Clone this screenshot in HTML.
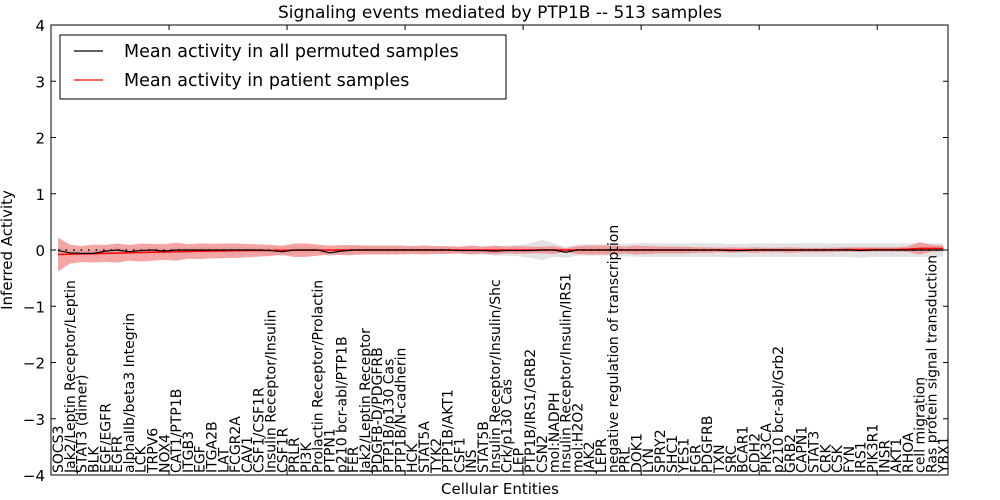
<!DOCTYPE html>
<html><head><meta charset="utf-8"><style>
body{margin:0;background:#fff;}
svg{display:block;font-family:"DejaVu Sans","Liberation Sans",sans-serif;}
</style></head><body>
<svg id="chart" width="1000" height="500" viewBox="0 0 1000 500">
<rect width="1000" height="500" fill="#fff"/>
<text x="500" y="18" text-anchor="middle" font-size="17">Signaling events mediated by PTP1B -- 513 samples</text>
<g id="bands"></g>
<g id="lines"></g>
<rect x="51" y="25" width="897" height="450" fill="none" stroke="#000" stroke-width="1"/>
<g id="yaxis"></g>
<g id="xaxis"></g>
<text x="12" y="250" transform="rotate(-90 12 250)" text-anchor="middle" font-size="15">Inferred Activity</text>
<text x="500" y="494" text-anchor="middle" font-size="15">Cellular Entities</text>
<g>
<rect x="60" y="35" width="446" height="64" fill="#fff" stroke="#000" stroke-width="1"/>
<line x1="74" y1="51" x2="103" y2="51" stroke="#000" stroke-width="1.2"/>
<text x="124" y="57" font-size="17.5">Mean activity in all permuted samples</text>
<line x1="74" y1="80" x2="103" y2="80" stroke="#f00" stroke-width="1.2"/>
<text x="124" y="86" font-size="17.5">Mean activity in patient samples</text>
</g>
</svg>
<script>
const categories=["SOCS3","Jak2/Leptin Receptor/Leptin","STAT3 (dimer)","BLK","EGF/EGFR","EGFR","alphaIIb/beta3 Integrin","LCK","TRPV6","NOX4","CAT1/PTP1B","ITGB3","EGF","ITGA2B","LAT","FCGR2A","CAV1","CSF1/CSF1R","Insulin Receptor/Insulin","CSF1R","PRLR","PI3K","Prolactin Receptor/Prolactin","PTPN1","p210 bcr-abl/PTP1B","FER","Jak2/Leptin Receptor","PDGFB-D/PDGFRB","PTP1B/p130 Cas","PTP1B/N-cadherin","HCK","STAT5A","TYK2","PTP1B/AKT1","CSF1","INS","STAT5B","Insulin Receptor/Insulin/Shc","Crk/p130 Cas","LEP","PTP1B/IRS1/GRB2","CSN2","mol:NADPH","Insulin Receptor/Insulin/IRS1","mol:H2O2","JAK2","LEPR","negative regulation of transcription","PRL","DOK1","LYN","SPRY2","SHC1","YES1","FGR","PDGFRB","TXN","SRC","BCAR1","CDH2","PIK3CA","p210 bcr-abl/Grb2","GRB2","CAPN1","STAT3","CRK","CSK","FYN","IRS1","PIK3R1","INSR","AKT1","RHOA","cell migration","Ras protein signal transduction","YBX1"];
const permutedMean=[-0.01,-0.05,-0.06,-0.06,-0.02,0,-0.03,-0.01,0,-0.02,0,0,0,0,0,0,0,0,-0.01,-0.03,0,0,0,-0.05,-0.02,0,0,0,0,0,0,0,0,0,-0.01,-0.01,-0.01,-0.02,-0.01,-0.01,-0.01,0,0,-0.04,0,0,0,0,0,0,0,0,0,0,0,0,0,-0.01,-0.01,0,0,0,0,0,0,0,0,0,-0.01,0,0,0,0,0,0,0];
const permutedSpread=[0.05,0.05,0.05,0.05,0.05,0.05,0.05,0.05,0.05,0.05,0.05,0.05,0.05,0.05,0.05,0.05,0.05,0.05,0.06,0.08,0.07,0.06,0.06,0.06,0.06,0.06,0.06,0.06,0.06,0.06,0.06,0.06,0.06,0.06,0.06,0.07,0.07,0.08,0.09,0.1,0.13,0.18,0.12,0.1,0.1,0.1,0.1,0.1,0.11,0.12,0.12,0.12,0.12,0.12,0.12,0.12,0.12,0.12,0.12,0.12,0.12,0.12,0.12,0.12,0.12,0.12,0.12,0.12,0.13,0.12,0.12,0.12,0.12,0.12,0.12,0.12];
const patientMean=[-0.08,-0.075,-0.07,-0.065,-0.06,-0.055,-0.05,-0.045,-0.04,-0.035,-0.03,-0.026,-0.022,-0.018,-0.015,-0.012,-0.01,-0.008,-0.006,-0.005,-0.004,-0.003,-0.002,-0.002,-0.001,0,0,0,0,0,0,0,0,0,0,0,0,0,0,0,0,0,0,0,0,0,0,0,0,0,0,0,0,0,0,0,0,0,0,0,0,0,0,0,0,0,0.005,0.01,0.01,0.01,0.01,0.01,0.015,0.03,0.03,0.03];
const patientSpread=[0.3,0.17,0.14,0.16,0.15,0.17,0.14,0.16,0.15,0.14,0.16,0.13,0.14,0.13,0.13,0.13,0.12,0.11,0.1,0.08,0.12,0.12,0.1,0.08,0.09,0.09,0.08,0.08,0.08,0.08,0.07,0.08,0.07,0.07,0.06,0.08,0.06,0.08,0.06,0.07,0.06,0.06,0.07,0.03,0.07,0.08,0.08,0.08,0.06,0.08,0.07,0.06,0.06,0.06,0.05,0.05,0.04,0.05,0.04,0.05,0.04,0.04,0.05,0.04,0.04,0.04,0.04,0.04,0.04,0.04,0.04,0.04,0.05,0.11,0.06,0.05];
const yTicks=[-4,-3,-2,-1,0,1,2,3,4];
const xTickIdx=[0,10,20,30,40,50,60,70];

const NS="http://www.w3.org/2000/svg";
const L=51,R=948,T=25,B=475,N=categories.length,STEP=(R-L)/N;
function xs(i){return L+(i+0.6)*STEP;}
function ys(v){return T+(4-v)/8*(B-T);}
function mk(tag,attrs,parent){const e=document.createElementNS(NS,tag);for(const k in attrs)e.setAttribute(k,attrs[k]);parent.appendChild(e);return e;}
function band(mean,spread){let up=[],dn=[];for(let i=0;i<N;i++){up.push(xs(i)+","+ys(mean[i]+spread[i]));dn.unshift(xs(i)+","+ys(mean[i]-spread[i]));}return up.concat(dn).join(" ");}
function line(vals){return vals.map((v,i)=>xs(i)+","+ys(v)).join(" ");}
const bands=document.getElementById("bands"),lines=document.getElementById("lines");
let g=mk("polygon",{points:band(permutedMean,permutedSpread),fill:"#d9d9d9","fill-opacity":"0.75"},bands);


let r=mk("polygon",{points:band(patientMean,patientSpread),fill:"#f08080","fill-opacity":"0.7"},bands);


let z=mk("line",{x1:xs(0),x2:xs(N-1),y1:ys(0),y2:ys(0),stroke:"#000","stroke-width":"1.5","stroke-dasharray":"1.5 6"},lines);


let pl=mk("polyline",{points:line(patientMean),fill:"none",stroke:"#f00","stroke-width":"1.5"},lines);


let bl=mk("polyline",{points:line(permutedMean),fill:"none",stroke:"#000","stroke-width":"1.2"},lines);


const ya=document.getElementById("yaxis");
yTicks.forEach(v=>{
  const y=ys(v);
  let t1=mk("line",{x1:L,x2:L+5,y1:y,y2:y,stroke:"#000"},ya);
  
  
  let t2=mk("line",{x1:R-5,x2:R,y1:y,y2:y,stroke:"#000"},ya);
  
  
  let tx=mk("text",{x:L-6,y:y+6,"text-anchor":"end","font-size":"15"},ya);
  tx.textContent=v==0?"0":(v<0?"\u2212"+(-v):String(v));
  
  
});
const xa=document.getElementById("xaxis");
xTickIdx.forEach(i=>{
  const x=L+i*STEP;
  let a=mk("line",{x1:x,x2:x,y1:T,y2:T+5,stroke:"#000"},xa);
  
  
  let b=mk("line",{x1:x,x2:x,y1:B-5,y2:B,stroke:"#000"},xa);
  
  
});
categories.forEach((c,i)=>{
  const x=xs(i)+5,y=B-2;
  let t=mk("text",{x:x,y:y,transform:"rotate(-90 "+x+" "+y+")","font-size":"14"},xa);
  t.textContent=c;
  
  
});
</script>
</body></html>
